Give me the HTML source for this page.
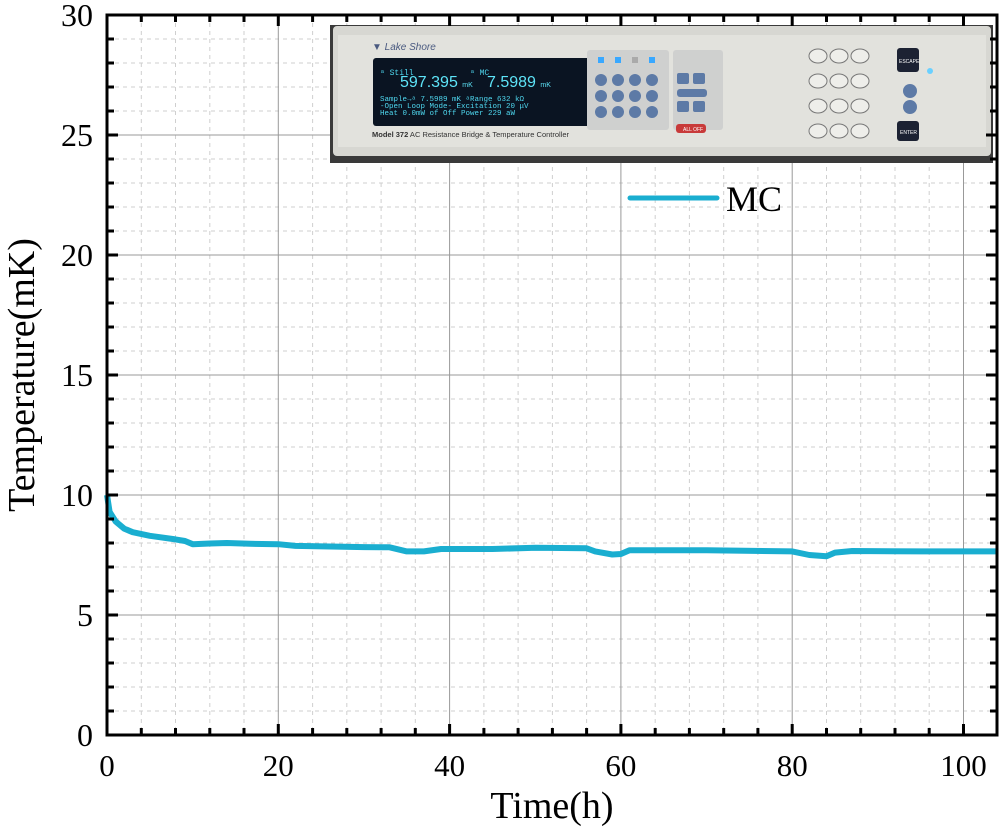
<!DOCTYPE html>
<html><head><meta charset="utf-8"><style>
body{margin:0;background:#fff;width:1000px;height:834px;overflow:hidden}
text{font-family:"Liberation Serif",serif;fill:#000}
</style></head><body>
<svg width="1000" height="834" viewBox="0 0 1000 834" xmlns="http://www.w3.org/2000/svg">
<path fill="none" stroke="#cfcfcf" stroke-width="1" stroke-dasharray="4,4" d="M141.3 15V735M175.5 15V735M209.8 15V735M244 15V735M312.6 15V735M346.8 15V735M381.1 15V735M415.3 15V735M483.9 15V735M518.1 15V735M552.4 15V735M586.6 15V735M655.2 15V735M689.4 15V735M723.7 15V735M757.9 15V735M826.5 15V735M860.7 15V735M895 15V735M929.2 15V735
M107 711H997M107 687H997M107 663H997M107 639H997M107 591H997M107 567H997M107 543H997M107 519H997M107 471H997M107 447H997M107 423H997M107 399H997M107 351H997M107 327H997M107 303H997M107 279H997M107 231H997M107 207H997M107 183H997M107 159H997M107 111H997M107 87H997M107 63H997M107 39H997"/>
<path fill="none" stroke="#999" stroke-width="1" d="M278.3 15V735M449.6 15V735M620.9 15V735M792.2 15V735M963.5 15V735M107 615H997M107 495H997M107 375H997M107 255H997M107 135H997"/>
<polyline fill="none" stroke="#1aaed0" stroke-width="6" stroke-linejoin="round" points="107,495 109.6,511.8 115.6,521.4 124.1,528.6 132.7,532.2 149.8,535.8 175.5,539.4 185,541 192.7,544.2 210,543.5 226.9,543 250,543.8 278.3,544.2 295.4,545.9 330,546.5 364,547.1 389.6,547.3 406.8,551.4 423.9,551.4 441,549 492.4,549 535.3,547.8 586.6,548.3 595.2,551.4 612.3,554.5 620.9,554 629.5,550.2 706.6,550.2 792.2,551.4 809.3,555 826.5,556.2 835,552.6 852.2,551 920.7,551.4 997,551.4"/>
<rect x="330" y="25" width="663" height="138" fill="#3a3a3a"/>
<rect x="333" y="26" width="658" height="130" rx="4" fill="#d7d7d2"/>
<rect x="338" y="35" width="648" height="112" fill="#e2e2dd"/>
<rect x="373" y="58" width="256" height="68" rx="3" fill="#0a1422"/>
<text x="380" y="75" style="font-family:'Liberation Mono',monospace;font-size:8px;fill:#4fd8f0">ᵃ Still</text>
<text x="400" y="87" style="font-family:'Liberation Sans',sans-serif;font-size:16px;fill:#5ee4f8">597.395 <tspan font-size="7">mK</tspan></text>
<text x="470" y="75" style="font-family:'Liberation Mono',monospace;font-size:8px;fill:#4fd8f0">ᵃ MC</text>
<text x="487" y="87" style="font-family:'Liberation Sans',sans-serif;font-size:16px;fill:#5ee4f8">7.5989 <tspan font-size="7">mK</tspan></text>
<text x="380" y="101" style="font-family:'Liberation Mono',monospace;font-size:7.5px;fill:#4fd8f0">Sample→ᵃ 7.5989 mK ᵃRange      632 kΩ</text>
<text x="380" y="108" style="font-family:'Liberation Mono',monospace;font-size:7.5px;fill:#4fd8f0">-Open Loop Mode-   Excitation   20 μV</text>
<text x="380" y="115" style="font-family:'Liberation Mono',monospace;font-size:7.5px;fill:#4fd8f0">Heat 0.0mW of Off  Power       229 aW</text>
<text x="372" y="50" style="font-family:'Liberation Sans',sans-serif;font-size:10px;font-style:italic;fill:#4a5a80">▼ Lake Shore</text>
<text x="372" y="137" style="font-family:'Liberation Sans',sans-serif;font-size:7.5px;fill:#333"><tspan font-weight="bold">Model 372</tspan> AC Resistance Bridge &amp; Temperature Controller</text>
<rect x="587" y="50" width="82" height="80" rx="3" fill="#cfd0cf"/>
<rect x="673" y="50" width="50" height="80" rx="3" fill="#cfd0cf"/>
<rect x="598" y="57" width="6" height="6" fill="#39a8ff"/><rect x="615" y="57" width="6" height="6" fill="#39a8ff"/><rect x="632" y="57" width="6" height="6" fill="#aaa"/><rect x="649" y="57" width="6" height="6" fill="#39a8ff"/>
<g fill="#5d7aa6">
<circle cx="601" cy="80" r="6"/><circle cx="618" cy="80" r="6"/><circle cx="635" cy="80" r="6"/><circle cx="652" cy="80" r="6"/>
<circle cx="601" cy="96" r="6"/><circle cx="618" cy="96" r="6"/><circle cx="635" cy="96" r="6"/><circle cx="652" cy="96" r="6"/>
<circle cx="601" cy="112" r="6"/><circle cx="618" cy="112" r="6"/><circle cx="635" cy="112" r="6"/><circle cx="652" cy="112" r="6"/>
<rect x="677" y="73" width="12" height="11" rx="2"/><rect x="693" y="73" width="12" height="11" rx="2"/>
<rect x="677" y="89" width="30" height="8" rx="3"/>
<rect x="677" y="101" width="12" height="11" rx="2"/><rect x="693" y="101" width="12" height="11" rx="2"/>
<circle cx="910" cy="91" r="7"/><circle cx="910" cy="107" r="7"/>
</g>
<g fill="#eeeeea" stroke="#777">
<ellipse cx="818" cy="56" rx="9" ry="7"/><ellipse cx="839" cy="56" rx="9" ry="7"/><ellipse cx="860" cy="56" rx="9" ry="7"/>
<ellipse cx="818" cy="81" rx="9" ry="7"/><ellipse cx="839" cy="81" rx="9" ry="7"/><ellipse cx="860" cy="81" rx="9" ry="7"/>
<ellipse cx="818" cy="106" rx="9" ry="7"/><ellipse cx="839" cy="106" rx="9" ry="7"/><ellipse cx="860" cy="106" rx="9" ry="7"/>
<ellipse cx="818" cy="131" rx="9" ry="7"/><ellipse cx="839" cy="131" rx="9" ry="7"/><ellipse cx="860" cy="131" rx="9" ry="7"/>
</g>
<rect x="676" y="124" width="30" height="9" rx="3" fill="#c83a3a"/>
<text x="683" y="131" style="font-family:'Liberation Sans',sans-serif;font-size:5px;fill:#fff">ALL OFF</text>
<rect x="897" y="48" width="22" height="24" rx="3" fill="#1c2233"/>
<text x="899" y="63" style="font-family:'Liberation Sans',sans-serif;font-size:5px;fill:#fff">ESCAPE</text>
<rect x="897" y="121" width="22" height="20" rx="3" fill="#1c2233"/>
<text x="900" y="134" style="font-family:'Liberation Sans',sans-serif;font-size:5px;fill:#fff">ENTER</text>
<circle cx="930" cy="71" r="3" fill="#6ad0ff"/>
<line x1="630" y1="198" x2="717" y2="198" stroke="#1aaed0" stroke-width="5" stroke-linecap="round"/>
<text x="726" y="211" font-size="36">MC</text>
<rect x="107" y="15" width="890" height="720" fill="none" stroke="#000" stroke-width="3"/>
<path fill="none" stroke="#000" stroke-width="3" d="M107 735v-11M278.3 735v-11M449.6 735v-11M620.9 735v-11M792.2 735v-11M963.5 735v-11M107 15v11M278.3 15v11M449.6 15v11M620.9 15v11M792.2 15v11M963.5 15v11
M141.3 735v-7M175.5 735v-7M209.8 735v-7M244 735v-7M312.6 735v-7M346.8 735v-7M381.1 735v-7M415.3 735v-7M483.9 735v-7M518.1 735v-7M552.4 735v-7M586.6 735v-7M655.2 735v-7M689.4 735v-7M723.7 735v-7M757.9 735v-7M826.5 735v-7M860.7 735v-7M895 735v-7M929.2 735v-7
M141.3 15v7M175.5 15v7M209.8 15v7M244 15v7M312.6 15v7M346.8 15v7M381.1 15v7M415.3 15v7M483.9 15v7M518.1 15v7M552.4 15v7M586.6 15v7M655.2 15v7M689.4 15v7M723.7 15v7M757.9 15v7M826.5 15v7M860.7 15v7M895 15v7M929.2 15v7
M107 615h11M107 495h11M107 375h11M107 255h11M107 135h11M997 615h-11M997 495h-11M997 375h-11M997 255h-11M997 135h-11
M107 711h7M107 687h7M107 663h7M107 639h7M107 591h7M107 567h7M107 543h7M107 519h7M107 471h7M107 447h7M107 423h7M107 399h7M107 351h7M107 327h7M107 303h7M107 279h7M107 231h7M107 207h7M107 183h7M107 159h7M107 111h7M107 87h7M107 63h7M107 39h7
M997 711h-7M997 687h-7M997 663h-7M997 639h-7M997 591h-7M997 567h-7M997 543h-7M997 519h-7M997 471h-7M997 447h-7M997 423h-7M997 399h-7M997 351h-7M997 327h-7M997 303h-7M997 279h-7M997 231h-7M997 207h-7M997 183h-7M997 159h-7M997 111h-7M997 87h-7M997 63h-7M997 39h-7"/>
<g font-size="32" text-anchor="end">
<text x="93" y="746">0</text><text x="93" y="626">5</text><text x="93" y="506">10</text><text x="93" y="386">15</text><text x="93" y="266">20</text><text x="93" y="146">25</text><text x="93" y="26">30</text>
</g>
<g font-size="31" text-anchor="middle">
<text x="107" y="776">0</text><text x="278.3" y="776">20</text><text x="449.6" y="776">40</text><text x="620.9" y="776">60</text><text x="792.2" y="776">80</text><text x="963.5" y="776">100</text>
</g>
<text x="552" y="818" font-size="38" text-anchor="middle">Time(h)</text>
<text x="0" y="0" font-size="38" text-anchor="middle" transform="translate(34,375) rotate(-90)">Temperature(mK)</text>
</svg>
</body></html>
